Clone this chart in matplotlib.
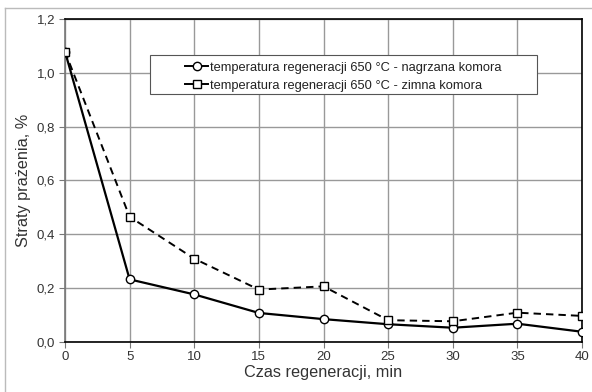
import matplotlib
matplotlib.use("Agg")
import matplotlib.pyplot as plt
from matplotlib.ticker import FuncFormatter, MultipleLocator
from matplotlib.lines import Line2D
from matplotlib.patches import Rectangle

plt.rcParams['font.family'] = ['Liberation Sans', 'DejaVu Sans']

time_min = [0, 5, 10, 15, 20, 25, 30, 35, 40]
heated = [1.08, 0.232, 0.176, 0.107, 0.084, 0.065, 0.052, 0.067, 0.037]
cold = [1.08, 0.465, 0.309, 0.194, 0.206, 0.080, 0.076, 0.108, 0.096]
label_heated = "temperatura regeneracji 650 °C - nagrzana komora"
label_cold = "temperatura regeneracji 650 °C - zimna komora"

fig = plt.figure(figsize=(5.92, 3.92), dpi=100)
ax = fig.add_axes([65/592, 1-341.7/392, 517/592, 322.4/392])

ax.plot(time_min, heated, color='black', lw=1.6, marker='o', ms=6,
        mfc='white', mec='black', mew=1.0, label=label_heated, zorder=3)
ax.plot(time_min, cold, color='black', lw=1.4, ls=(0, (3.8, 2.6)), marker='s', ms=6,
        mfc='white', mec='black', mew=1.0, label=label_cold, zorder=4)

ax.set_xlim(0, 40)
ax.set_ylim(0, 1.2)
ax.xaxis.set_major_locator(MultipleLocator(5))
ax.yaxis.set_major_locator(MultipleLocator(0.2))
ax.yaxis.set_major_formatter(FuncFormatter(lambda v, p: f"{v:.1f}".replace('.', ',')))
ax.grid(True, color='#999999', lw=1.0)
ax.set_axisbelow(True)
for s in ['top', 'right', 'bottom']:
    ax.spines[s].set_color('black')
    ax.spines[s].set_linewidth(1.2)
ax.spines['left'].set_color('#777777')
ax.spines['left'].set_linewidth(1.2)
ax.tick_params(axis='both', direction='out', length=4, color='#777777',
               labelsize=9.5, labelcolor='#333333', pad=3)
ax.set_xlabel("Czas regeneracji, min", fontsize=11.7, color='#333333', labelpad=1)
ax.set_ylabel("Straty prażenia, %", fontsize=11.7, color='#333333', labelpad=4)

# legend box
ax.add_patch(Rectangle((0.164, 0.768), 0.913-0.164, 0.889-0.768, transform=ax.transAxes,
                       facecolor='white', edgecolor='#555555', lw=0.8, zorder=5))
handles = [Line2D([], [], color='black', lw=1.4, marker='o', ms=6, mfc='white', mec='black'),
           Line2D([], [], color='black', lw=1.4, marker='s', ms=6, mfc='white', mec='black')]
leg = ax.legend(handles, [label_heated, label_cold], loc='center left',
                bbox_to_anchor=(0.232, 0.822), fontsize=9.3, frameon=False,
                handlelength=1.8, handletextpad=0.15, labelspacing=0.45,
                borderpad=0, borderaxespad=0)
leg.set_zorder(6)
for t in leg.get_texts():
    t.set_color('#222222')

# outer frame lines
fig.add_artist(Line2D([5/592, 5/592], [0, 1-8/392], transform=fig.transFigure, color='#bbbbbb', lw=1))
fig.add_artist(Line2D([5/592, 1], [1-8/392, 1-8/392], transform=fig.transFigure, color='#bbbbbb', lw=1))

fig.savefig("out.png", dpi=100)
